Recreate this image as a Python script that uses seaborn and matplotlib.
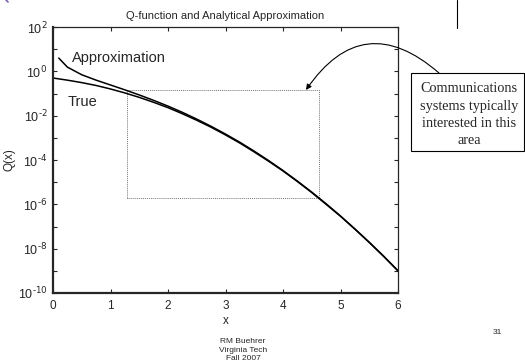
import numpy as np
import pandas as pd
import matplotlib
matplotlib.use("Agg")
import matplotlib.pyplot as plt
from matplotlib import patches, lines, ticker
import seaborn as sns

# values
x_true = [0.0, 0.25, 0.5, 0.75, 1.0, 1.25, 1.5, 1.75, 2.0, 2.25, 2.5, 2.75, 3.0,
          3.25, 3.5, 3.75, 4.0, 4.25, 4.5, 4.75, 5.0, 5.25, 5.5, 5.75, 6.0]
q_true = [0.5, 0.40, 0.31, 0.23, 0.16, 0.106, 0.067, 0.040, 0.023, 0.0122, 0.0062,
          0.0030, 1.35e-3, 5.8e-4, 2.3e-4, 8.8e-5, 3.2e-5, 1.07e-5, 3.4e-6, 1.0e-6,
          2.9e-7, 7.6e-8, 1.9e-8, 4.5e-9, 9.9e-10]

x_approx = [0.1, 0.25, 0.5, 0.75, 1.0, 1.25, 1.5, 1.75, 2.0, 2.25, 2.5, 2.75, 3.0,
            3.25, 3.5, 3.75, 4.0, 4.25, 4.5, 4.75, 5.0, 5.25, 5.5, 5.75, 6.0]
q_approx = [3.97, 1.55, 0.70, 0.40, 0.242, 0.146, 0.086, 0.049, 0.027, 0.0141, 0.0070,
            0.0033, 1.48e-3, 6.3e-4, 2.5e-4, 9.4e-5, 3.35e-5, 1.12e-5, 3.55e-6, 1.06e-6,
            2.97e-7, 7.8e-8, 1.95e-8, 4.6e-9, 1.01e-9]

x_ticks = [0, 1, 2, 3, 4, 5, 6]
y_exps = [-10, -8, -6, -4, -2, 0, 2]
y_minor_exps = [-9, -7, -5, -3, -1, 1]

# region of interest box (x0, x1, y0, y1)
box_x = [1.28, 4.63]
box_y = [2e-6, 0.14]

sns.set_style("ticks")
plt.rcParams["font.family"] = ["Liberation Sans", "DejaVu Sans"]
plt.rcParams["mathtext.default"] = "regular"

W, H = 525, 362
fig = plt.figure(figsize=(5.25, 3.62), dpi=100)
ax = fig.add_axes([53 / W, 1 - 293 / H, 345 / W, 266 / H])

df_true = pd.DataFrame({"x": x_true, "q": q_true})
df_approx = pd.DataFrame({"x": x_approx, "q": q_approx})
sns.lineplot(data=df_true, x="x", y="q", color="black", lw=1.1, ax=ax)
sns.lineplot(data=df_approx, x="x", y="q", color="black", lw=1.1, ax=ax)

ax.set_yscale("log")
ax.set_xlim(0, 6)
ax.set_ylim(1e-10, 1e2)
ax.set_xticks(x_ticks)
ax.yaxis.set_major_locator(ticker.FixedLocator([10.0 ** e for e in y_exps]))
ax.yaxis.set_minor_locator(ticker.FixedLocator([10.0 ** e for e in y_minor_exps]))
ax.yaxis.set_minor_formatter(ticker.NullFormatter())
ax.set_yticklabels([rf"$10^{{\text{{{e}}}}}$" for e in y_exps])
ax.tick_params(axis="both", which="both", direction="in", top=True, right=True,
               labelsize=8.5, length=3, width=0.8, pad=4)
ax.tick_params(axis="x", pad=5)
ax.tick_params(axis="y", labelsize=9)
for side in ["left", "bottom"]:
    ax.spines[side].set_linewidth(1.6)
for side in ["top", "right"]:
    ax.spines[side].set_linewidth(0.9)

ax.set_xlabel("x", fontsize=8.5, labelpad=2)
ax.set_ylabel("Q(x)", fontsize=8.5)
ax.yaxis.set_label_coords(-0.11, 0.5)
ax.set_title("Q-function and Analytical Approximation", fontsize=8, pad=6)

ax.text(0.33, 10 ** 0.6, "Approximation", fontsize=10.5, va="center", ha="left")
ax.text(0.26, 10 ** -1.4, "True", fontsize=10.5, va="center", ha="left")

ax.add_patch(patches.Rectangle((box_x[0], box_y[0]), box_x[1] - box_x[0],
                               box_y[1] - box_y[0], fill=False, ls=(0, (1, 1)),
                               ec="#777777", lw=0.7))

# callout box
fig.add_artist(patches.Rectangle((411 / W, 1 - 151 / H), 113 / W, 78 / H,
                                 transform=fig.transFigure, fill=False,
                                 ec="black", lw=0.8))
fig.text(469 / W, 1 - 114.5 / H,
         "Communications\nsystems typically\ninterested in this\narea",
         ha="center", va="center", fontsize=10.3, family="Liberation Serif",
         linespacing=1.4)
ax.annotate("", xy=(306 / W, 1 - 90 / H), xycoords="figure fraction",
            xytext=(439 / W, 1 - 73 / H), textcoords="figure fraction",
            arrowprops=dict(arrowstyle="-|>", connectionstyle="arc3,rad=0.56",
                            lw=0.8, color="black", mutation_scale=8,
                            shrinkA=0, shrinkB=0),
            annotation_clip=False)

# slide leftovers
fig.add_artist(lines.Line2D([457 / W, 457 / W], [1, 1 - 28 / H], color="black",
                            lw=0.8, transform=fig.transFigure))
fig.add_artist(lines.Line2D([6 / W, 8 / W], [1, 1 - 2 / H], color="#7a5bc4",
                            lw=1.2, transform=fig.transFigure))
fig.text(243 / W, 1 - 350 / H, "RM Buehrer\nVirginia Tech\nFall 2007", ha="center",
         va="center", fontsize=6, linespacing=1.25)
fig.text(497 / W, 1 - 333 / H, "31", ha="center", va="center", fontsize=6)

fig.savefig("out.png", dpi=100)
